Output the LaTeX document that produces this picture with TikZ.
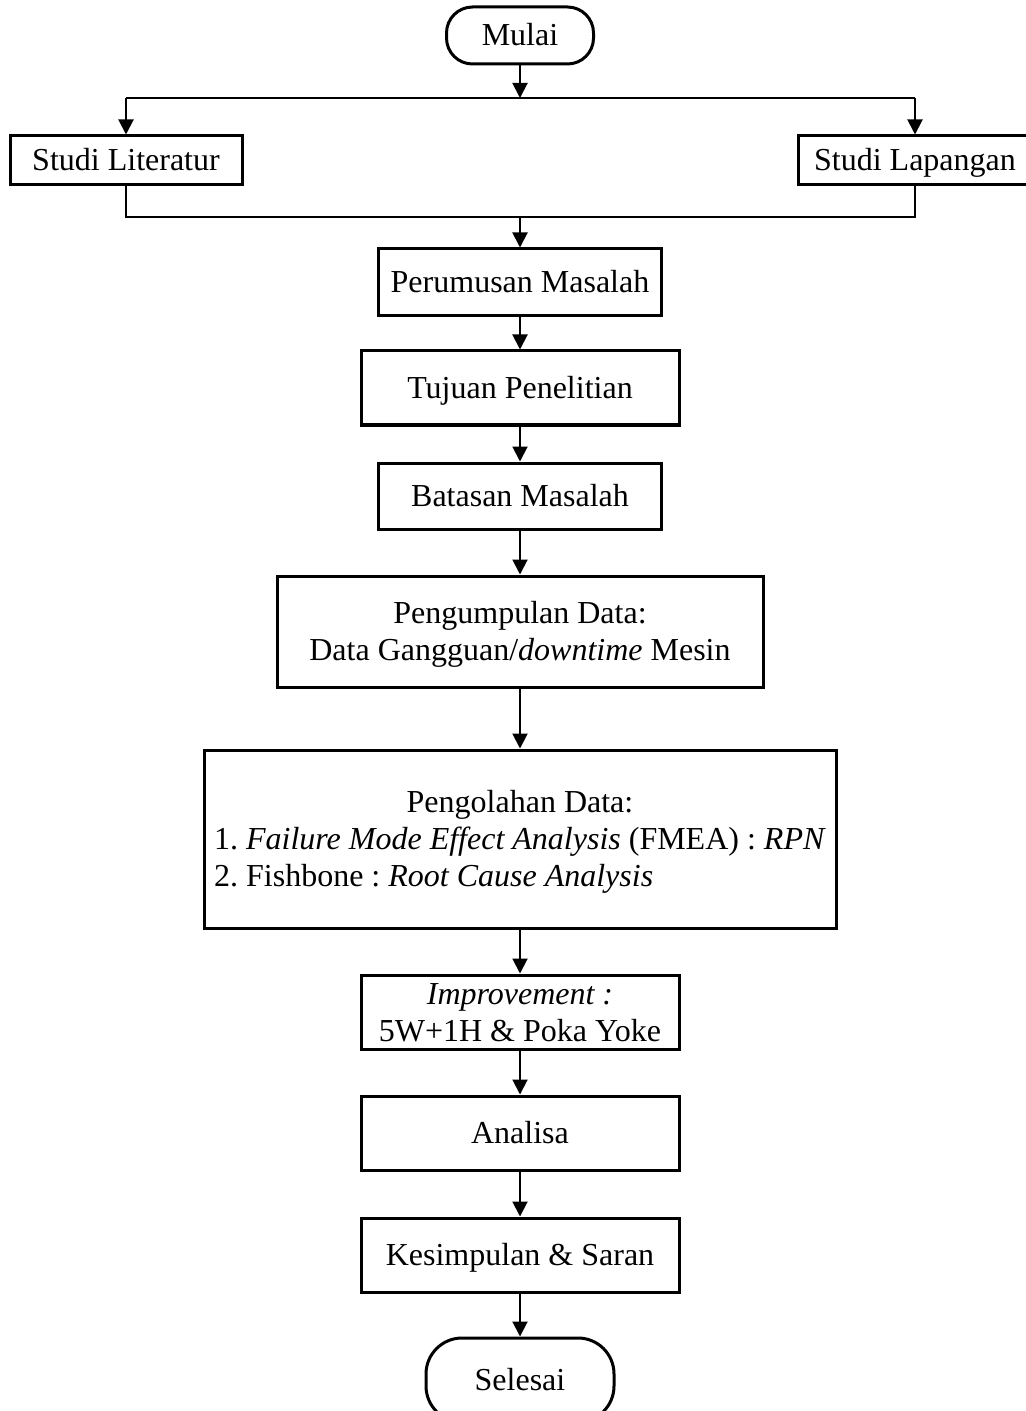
\documentclass[tikz,border=0pt]{standalone}
\usepackage{fontspec}
\setmainfont{Liberation Serif}
\usetikzlibrary{arrows.meta}
\frenchspacing
\newcommand\mystrut{\vrule width0pt height14.5pt depth4pt\relax}
\begin{document}
\begin{tikzpicture}[x=0.5pt,y=-0.5pt,
  box/.style={draw, line width=1.5pt, inner sep=0pt, align=center,
    font=\fontsize{16}{18.5}\selectfont},
  term/.style={box, rounded corners=13pt},
  conn/.style={line width=1pt},
  arr/.style={conn, -{Triangle[length=7.5pt,width=7.5pt]}}]
\useasboundingbox (0,0) rectangle (1026,1411);
\clip (0,0) rectangle (1026,1411);
% nodes
\node[term, minimum width=73.5pt, minimum height=28.5pt] (mulai) at (520,35.5) {\mystrut Mulai};
\node[box, minimum width=116pt, minimum height=24.5pt] (lit) at (126,160.5) {\mystrut Studi Literatur};
\node[box, minimum width=117pt, minimum height=24.5pt] (lap) at (915,160.5) {\mystrut Studi Lapangan};
\node[box, minimum width=141.5pt, minimum height=33.5pt] (rumus) at (520,282.5) {\mystrut Perumusan Masalah};
\node[box, minimum width=159pt, minimum height=37pt] (tujuan) at (520,388) {\mystrut Tujuan Penelitian};
\node[box, minimum width=141.5pt, minimum height=33pt] (batas) at (520,496) {\mystrut Batasan Masalah};
\node[box, minimum width=243pt, minimum height=55.5pt] (kumpul) at (520,631.5) {\mystrut Pengumpulan Data:\\ \mystrut Data Gangguan/\textit{downtime} Mesin};
\node[box, minimum width=316pt, minimum height=89pt] (olah) at (520,839) {\renewcommand\arraystretch{0}\begin{tabular}{@{}l@{}}\multicolumn{1}{@{}c@{}}{\mystrut Pengolahan Data:}\\ \mystrut 1. \textit{Failure Mode Effect Analysis} (FMEA) : \textit{RPN}\\ \mystrut 2. Fishbone : \textit{Root Cause Analysis}\end{tabular}};
\node[box, minimum width=159pt, minimum height=37pt] (improve) at (520,1012) {\mystrut\textit{Improvement :}\\ \mystrut 5W+1H \& Poka Yoke};
\node[box, minimum width=159pt, minimum height=37pt] (analisa) at (520,1133) {\mystrut Analisa};
\node[box, minimum width=159pt, minimum height=37pt] (simpul) at (520,1255) {\mystrut Kesimpulan \& Saran};
\node[term, rounded corners=18pt, minimum width=94pt, minimum height=42pt] (selesai) at (520,1380) {\mystrut Selesai};
% junction points
\coordinate (split) at (520,98);
\coordinate (tl) at (126,98);
\coordinate (tr) at (915,98);
\coordinate (bl) at (126,217);
\coordinate (br) at (915,217);
\coordinate (merge) at (520,217);
% connectors
\draw[arr] (mulai) -- (split);
\draw[conn] (tl) -- (tr);
\draw[arr] (tl) -- (lit);
\draw[arr] (tr) -- (lap);
\draw[conn] (lit) -- (bl) -- (br) -- (lap);
\draw[arr] (merge) -- (rumus);
\draw[arr] (rumus) -- (tujuan);
\draw[arr] (tujuan) -- (batas);
\draw[arr] (batas) -- (kumpul);
\draw[arr] (kumpul) -- (olah);
\draw[arr] (olah) -- (improve);
\draw[arr] (improve) -- (analisa);
\draw[arr] (analisa) -- (simpul);
\draw[arr] (simpul) -- (selesai);
\end{tikzpicture}
\end{document}
